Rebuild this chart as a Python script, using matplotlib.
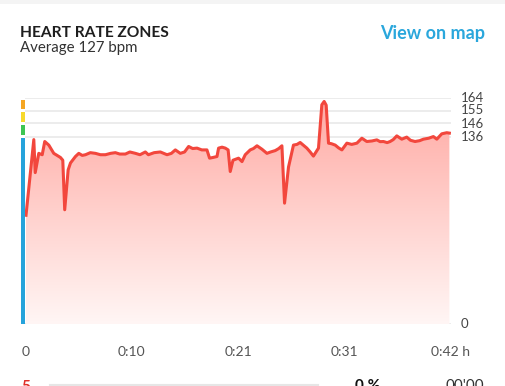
import numpy as np
import matplotlib
matplotlib.use("Agg")
import matplotlib.pyplot as plt
from matplotlib.colors import LinearSegmentedColormap

# heart rate trace (minutes, bpm)
t_min = [0.05, 0.82, 0.96, 1.31, 1.65, 1.90, 2.30, 2.79, 3.45, 3.68, 3.87, 4.21, 4.44,
         4.93, 5.26, 5.6, 5.92, 6.4, 6.90, 7.4, 7.89, 8.4, 8.87, 9.3, 9.86, 10.3, 10.85,
         11.3, 11.83, 12.13, 12.7, 13.31, 13.97, 14.4, 14.79, 15.28, 15.7, 16.10, 16.5,
         16.93, 17.4, 17.91, 18.17, 18.5, 18.90, 19.06, 19.4, 19.72, 20.0, 20.21, 20.48,
         21.03, 21.37, 21.69, 22.18, 22.5, 22.85, 23.34, 23.83, 24.2, 24.65, 25.0, 25.31,
         25.57, 25.96, 26.45, 26.8, 27.11, 27.77, 28.1, 28.42, 28.92, 29.25, 29.48, 29.68,
         29.91, 30.2, 30.57, 30.9, 31.23, 31.72, 32.2, 32.71, 33.20, 33.69, 34.2, 34.68,
         35.0, 35.33, 35.7, 35.99, 36.3, 36.65, 37.14, 37.63, 38.0, 38.45, 38.9, 39.28,
         39.8, 40.26, 40.60, 41.09, 41.58, 41.84]
bpm = [79, 134, 110, 124, 123, 132.6, 130, 124, 121, 119, 83, 112, 117,
       121.7, 124, 122.5, 123, 124.5, 124, 123, 123, 124, 124.5, 123.5, 123.5, 125, 124,
       123, 125, 123, 124.5, 125, 123, 124, 126.5, 124, 125, 129, 127.5,
       127.8, 126.5, 126.5, 120.5, 121, 121.7, 127.8, 128.5, 127.8, 126.5, 110.8, 119,
       120.5, 118, 123, 126.5, 127.5, 129.5, 127, 124, 125, 126, 127.5, 129.5,
       87.8, 114, 130, 130.5, 131.9, 127.8, 125, 122, 127.8, 159.3, 161.7, 159,
       131.4, 131, 130, 128, 126.5, 131.4, 130.5, 131.4, 135, 132.6, 133, 133.8,
       132.5, 132.6, 131.8, 132.6, 134, 136.7, 134.3, 135.8, 133.5, 132.6, 133.2, 134.3,
       135, 136.2, 134.3, 138.2, 139, 138.7]

zone_edges = [0, 136, 146, 155, 164]
zone_colors = ["#26a3db", "#3dc553", "#f7d92c", "#f5a623"]
xticks = [0, 10.5, 21, 31.5, 42]
xlabels = ["0", "0:10", "0:21", "0:31", "0:42 h"]

W, H = 506, 386
fig = plt.figure(figsize=(W / 100, H / 100), dpi=100)
fig.patch.set_facecolor("white")


def fx(px):
    return px / W


def fy(py):
    return 1 - py / H


# thin grey strip at the very top
fig.add_artist(plt.Rectangle((0, fy(4)), 1, 4 / H, transform=fig.transFigure,
                             color="#f4f4f4", lw=0))

ax = fig.add_axes([fx(25.5), fy(324), fx(451) - fx(25.5), fy(98.3) - fy(324)])
ax.set_xlim(0, 42)
ax.set_ylim(0, 164)
for s in ax.spines.values():
    s.set_visible(False)
ax.set_xticks([])
ax.set_yticks([])

for v in zone_edges:
    ax.axhline(v, color="#e9e9e9", lw=1.2, zorder=0)

# gradient fill under the line
poly = ax.fill_between(t_min, bpm, 0, color="none", lw=0)
cmap = LinearSegmentedColormap.from_list("hr", ["#fff6f5", "#ffd0cc", "#ffa9a3"])
grad = np.linspace(0, 1, 256).reshape(-1, 1)
img = ax.imshow(grad, cmap=cmap, aspect="auto", origin="lower",
                extent=[0, 42, 0, 164], zorder=1)
img.set_clip_path(poly.get_paths()[0], transform=ax.transData)
ax.plot(t_min, bpm, color="#f2473d", lw=2.2, solid_joinstyle="round", zorder=2)

# zone bar on the left
for i, c in enumerate(zone_colors):
    lo = zone_edges[i] + (0 if i == 0 else 1.1)
    hi = zone_edges[i + 1] - 1.1
    ax.add_patch(plt.Rectangle((-0.49, lo), 0.49, hi - lo, color=c, lw=0,
                               clip_on=False, transform=ax.transData))

# right labels
fig.text(fx(461), fy(324.5), "0", fontsize=9.5, color="#444444", va="center", family="Lato")
for v, py in zip(zone_edges[1:], [137, 123.5, 110.5, 97.5]):
    fig.text(fx(461), fy(py), str(v), fontsize=9.5, color="#444444",
             va="center", family="Lato")

# x labels
for t, lab in zip(xticks, xlabels):
    xp = 25.5 + t / 42 * (451 - 25.5)
    fig.text(fx(xp), fy(352), lab, fontsize=10, color="#555555",
             ha="center", va="center", family="Lato")

fig.text(fx(20), fy(33), "HEART RATE ZONES", fontsize=11.2, fontweight="bold",
         color="#1e1e1e", va="center", family="Lato")
fig.text(fx(20), fy(48), "Average 127 bpm", fontsize=10.8, color="#333333",
         va="center", family="Lato")
fig.text(fx(485), fy(34), "View on map", fontsize=13, fontweight="bold",
         color="#2aa7dc", ha="right", va="center", family="Lato")

# next row, cut by the bottom edge
fig.text(fx(21), fy(380), "5", fontsize=11, fontweight="bold", color="#e0302a",
         va="top", family="Lato")
fig.add_artist(plt.Line2D([fx(50), fx(318)], [fy(385), fy(385)], color="#e6e6e6",
                          lw=1.5, transform=fig.transFigure))
fig.text(fx(380), fy(379), "0 %", fontsize=11, fontweight="bold", color="#111111",
         ha="right", va="top", family="Lato")
fig.text(fx(484), fy(379), "00'00", fontsize=11, color="#333333",
         ha="right", va="top", family="Lato")

fig.savefig("out.png", dpi=100, facecolor="white")
